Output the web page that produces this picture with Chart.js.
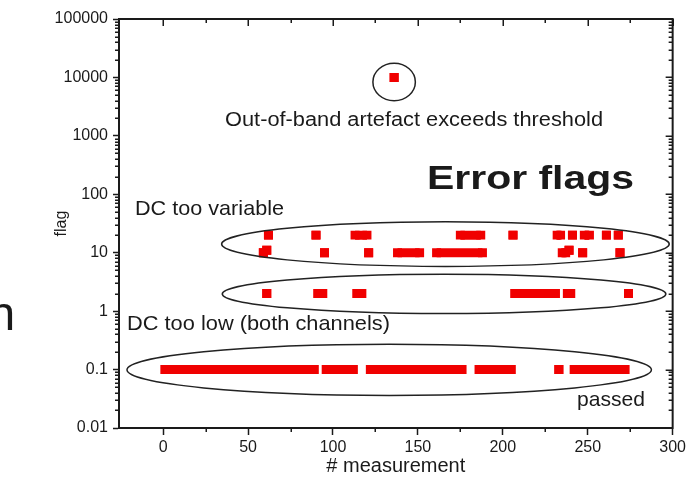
<!DOCTYPE html>
<html><head><meta charset="utf-8">
<style>html,body{margin:0;padding:0;background:#fff;overflow:hidden}</style>
<script src="https://cdn.jsdelivr.net/npm/chart.js@4.4.1/dist/chart.umd.min.js"></script>
</head><body>
<canvas id="c" width="689" height="485"></canvas>
<script>
// ---------------- data ----------------
// x axis ticks
const xTickValues = [0, 25, 50, 75, 100, 125, 150, 175, 200, 225, 250, 275, 300];
const xTickLabels = ['0', '', '50', '', '100', '', '150', '', '200', '', '250', '', '300'];
// y axis (log) decades
const yTickValues = [0.01, 0.1, 1, 10, 100, 1000, 10000, 100000];
const yTickLabels = ['0.01', '0.1', '1', '10', '100', '1000', '10000', '100000'];

// flag level of each group
const flagLevels = [0.1, 2, 10, 11, 20, 10000];

// runs of consecutive measurements with the same flag (start / end measurement #)
const passedStart = [1, 96, 122, 186, 233, 242];
const passedEnd   = [89, 112, 176, 205, 233, 272];

const lowStart = [61, 91, 114, 207, 238, 274];
const lowEnd   = [61, 94, 117, 231, 240, 274];

const var10Start = [59, 95, 121, 138, 161, 235, 247, 269];
const var10End   = [59, 95, 121, 151, 188, 237, 247, 269];

const var11Start = [61, 239];
const var11End   = [61, 239];

const var20Start = [62, 90, 113, 175, 206, 232, 241, 248, 261, 268];
const var20End   = [62, 90, 120, 187, 206, 234, 241, 251, 261, 268];

const oobStart = [136];
const oobEnd   = [136];

// ---------------- chart ----------------
const FONT = '"Liberation Sans", Arial, sans-serif';
const RED = '#f00000';
const INK = '#1a1a1a';

function runData(starts, ends, level) {
  const pts = [];
  starts.forEach((s, i) => {
    pts.push({x: s, y: level});
    pts.push({x: ends[i], y: level});
    pts.push({x: ends[i], y: null});
  });
  return pts;
}
function runSet(label, starts, ends, level) {
  return {
    label, data: runData(starts, ends, level), showLine: true, spanGaps: false,
    borderColor: RED, borderWidth: 9, borderCapStyle: 'butt',
    pointStyle: 'rect', pointRadius: 6.36, pointHoverRadius: 6.36,
    pointBackgroundColor: RED, pointBorderWidth: 0, backgroundColor: RED, tension: 0
  };
}

const datasets = [
  runSet('passed', passedStart, passedEnd, flagLevels[0]),
  runSet('DC too low', lowStart, lowEnd, flagLevels[1]),
  runSet('DC too variable 10', var10Start, var10End, flagLevels[2]),
  runSet('DC too variable 11', var11Start, var11End, flagLevels[3]),
  runSet('DC too variable 20', var20Start, var20End, flagLevels[4]),
  runSet('out of band', oobStart, oobEnd, flagLevels[5])
];

// all log ticks (decades + minor 2..9)
const yAllTicks = [];
yTickValues.forEach((v, i) => {
  yAllTicks.push({value: v, major: true});
  if (i < yTickValues.length - 1) for (let m = 2; m <= 9; m++) yAllTicks.push({value: v * m, major: false});
});

// annotation shapes (data-space bounds)
const ellipses = [
  {x0: 123.5, x1: 148.5, y0: 3999, y1: 17458},
  {x0: 34.4, x1: 298, y0: 5.83, y1: 33.8},
  {x0: 34.8, x1: 296, y0: 0.908, y1: 4.26},
  {x0: -21.3, x1: 287.5, y0: 0.0361, y1: 0.2707}
];
const texts = [
  {t: 'Out-of-band artefact exceeds threshold', x: 225, y: 126, size: 20, w: 378},
  {t: 'Error flags', x: 427, y: 189, size: 34, bold: true, w: 207},
  {t: 'DC too variable', x: 135, y: 215, size: 21, w: 149},
  {t: 'DC too low (both channels)', x: 127, y: 330, size: 21, w: 263},
  {t: 'passed', x: 577, y: 406, size: 21, w: 68},
  {t: 'n', x: -11.5, y: 330, size: 48}
];

const decor = {
  id: 'decor',
  afterDraw(chart) {
    const {ctx, chartArea: a, scales: {x, y}} = chart;
    ctx.save();
    ctx.strokeStyle = INK;
    // top & right frame
    ctx.lineWidth = 2;
    ctx.beginPath();
    ctx.moveTo(a.left - 1, a.top); ctx.lineTo(a.right, a.top); ctx.lineTo(a.right, a.bottom + 1);
    ctx.stroke();
    ctx.lineWidth = 1.5;
    ctx.beginPath();
    xTickValues.forEach((v, i) => {
      const px = Math.round(x.getPixelForValue(v)) + 0.25;
      const major = xTickLabels[i] !== '';
      if (!major) { ctx.moveTo(px, a.bottom); ctx.lineTo(px, a.bottom + 4); }
      ctx.moveTo(px, a.top); ctx.lineTo(px, a.top + (major ? 7 : 4));
    });
    yAllTicks.forEach(t => {
      const py = Math.round(y.getPixelForValue(t.value)) + 0.25;
      if (!t.major) { ctx.moveTo(a.left, py); ctx.lineTo(a.left - 4, py); }
      ctx.moveTo(a.right, py); ctx.lineTo(a.right - (t.major ? 7 : 4), py);
    });
    ctx.stroke();
    // ellipses
    ctx.strokeStyle = '#222';
    ctx.lineWidth = 1.5;
    ellipses.forEach(e => {
      const l = x.getPixelForValue(e.x0), r = x.getPixelForValue(e.x1);
      const t = y.getPixelForValue(e.y1), b = y.getPixelForValue(e.y0);
      ctx.beginPath();
      ctx.ellipse((l + r) / 2, (t + b) / 2, (r - l) / 2, (b - t) / 2, 0, 0, Math.PI * 2);
      ctx.stroke();
    });
    // texts
    ctx.fillStyle = INK;
    ctx.textBaseline = 'alphabetic';
    ctx.textAlign = 'left';
    texts.forEach(o => {
      ctx.font = (o.bold ? 'bold ' : '') + o.size + 'px ' + FONT;
      const mw = ctx.measureText(o.t).width;
      const sx = o.w ? o.w / mw : 1;
      ctx.save();
      ctx.translate(o.x, o.y);
      ctx.scale(sx, 1);
      ctx.fillText(o.t, 0, 0);
      ctx.restore();
    });
    ctx.restore();
  }
};

new Chart(document.getElementById('c'), {
  type: 'scatter',
  data: {datasets},
  plugins: [decor],
  options: {
    responsive: false, animation: false, devicePixelRatio: 1,
    layout: {padding: {top: 19, right: 16, bottom: 0, left: 0}},
    plugins: {legend: {display: false}, tooltip: {enabled: false}},
    scales: {
      x: {
        type: 'linear', min: -26, max: 300,
        afterBuildTicks: s => { s.ticks = xTickValues.map(v => ({value: v})); },
        afterFit: s => { s.height = 57; },
        ticks: {
          autoSkip: false, maxRotation: 0, padding: 3, color: INK,
          font: {family: FONT, size: 16},
          callback: v => { const i = xTickValues.indexOf(v); return i >= 0 ? xTickLabels[i] : ''; }
        },
        grid: {
          drawOnChartArea: false, drawTicks: true, tickLength: 7, tickWidth: 1.5,
          tickColor: c => (c.tick && xTickLabels[xTickValues.indexOf(c.tick.value)]) ? INK : 'rgba(0,0,0,0)'
        },
        border: {display: true, color: INK, width: 2},
        title: {display: true, text: '# measurement', color: INK, font: {family: FONT, size: 20}, padding: {top: 0, bottom: 7}}
      },
      y: {
        type: 'logarithmic', min: 0.01, max: 100000,
        afterBuildTicks: s => { s.ticks = yAllTicks.map(t => ({value: t.value, major: t.major})); },
        afterFit: s => { s.width = 119; },
        ticks: {
          autoSkip: false, padding: 5, color: INK,
          font: {family: FONT, size: 16},
          callback: v => { const i = yTickValues.indexOf(v); return i >= 0 ? yTickLabels[i] : ''; }
        },
        grid: {
          drawOnChartArea: false, drawTicks: true, tickLength: 6, tickWidth: 1.5,
          tickColor: c => (c.tick && yTickValues.includes(c.tick.value)) ? INK : 'rgba(0,0,0,0)'
        },
        border: {display: true, color: INK, width: 2},
        title: {display: true, text: 'flag', color: INK, font: {family: FONT, size: 16}, padding: {top: 52, bottom: 0}}
      }
    }
  }
});
</script>
</body></html>
